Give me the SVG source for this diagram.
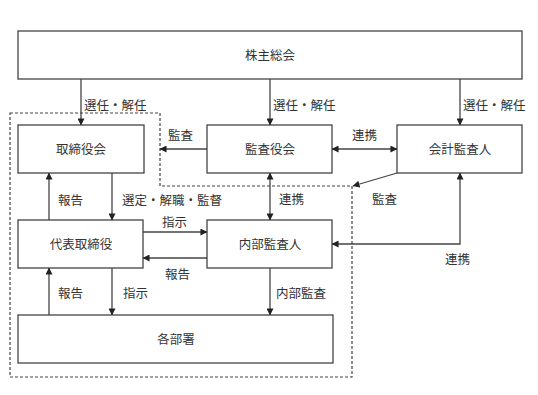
<svg xmlns="http://www.w3.org/2000/svg" width="538" height="395" viewBox="0 0 538 395">
<style>
.box{fill:#fff;stroke:#444;stroke-width:1.3}
.t{font-family:"Noto Sans CJK JP","Noto Sans",sans-serif;font-size:12.5px;fill:#333}
.c{text-anchor:middle}
.ln{stroke:#444;stroke-width:1.3;fill:none}
.dash{stroke:#444;stroke-width:1.2;fill:none;stroke-dasharray:3,2}
</style>
<defs>
<marker id="ah" viewBox="0 0 8 8" refX="7.5" refY="4" markerWidth="7" markerHeight="7" markerUnits="userSpaceOnUse" orient="auto-start-reverse">
<path d="M0,0 L8,4 L0,8 Z" fill="#222"/>
</marker>
</defs>
<rect width="538" height="395" fill="#fff"/>
<g id="region">
<path class="dash" d="M10,113 H160 V186 H352 V377 H10 Z"/>
</g>
<g id="n_kabunushi"><rect class="box" x="18" y="31" width="504" height="48"/><text class="t c" x="270" y="59.5">株主総会</text></g>
<g id="n_torishimariyakukai"><rect class="box" x="18" y="125" width="126" height="48"/><text class="t c" x="81" y="153.5">取締役会</text></g>
<g id="n_kansayakukai"><rect class="box" x="207" y="125" width="125" height="48"/><text class="t c" x="270" y="153.5">監査役会</text></g>
<g id="n_kaikei"><rect class="box" x="397" y="125" width="125" height="48"/><text class="t c" x="460" y="153.5">会計監査人</text></g>
<g id="n_daihyo"><rect class="box" x="18" y="220" width="125" height="48"/><text class="t c" x="81" y="248.5">代表取締役</text></g>
<g id="n_naibu"><rect class="box" x="207" y="220" width="125" height="48"/><text class="t c" x="270" y="248.5">内部監査人</text></g>
<g id="n_kakubusho"><rect class="box" x="18" y="315" width="315" height="48"/><text class="t c" x="176" y="343.5">各部署</text></g>
<g id="connectors">
<line class="ln" x1="81" y1="79" x2="81" y2="125" marker-end="url(#ah)"/>
<line class="ln" x1="270" y1="79" x2="270" y2="125" marker-end="url(#ah)"/>
<line class="ln" x1="460" y1="79" x2="460" y2="125" marker-end="url(#ah)"/>
<line class="ln" x1="207" y1="149" x2="160" y2="149" marker-end="url(#ah)"/>
<line class="ln" x1="332" y1="149" x2="397" y2="149" marker-start="url(#ah)" marker-end="url(#ah)"/>
<line class="ln" x1="397" y1="173" x2="353" y2="186" marker-end="url(#ah)"/>
<line class="ln" x1="49" y1="220" x2="49" y2="173" marker-end="url(#ah)"/>
<line class="ln" x1="112" y1="173" x2="112" y2="220" marker-end="url(#ah)"/>
<line class="ln" x1="270" y1="173" x2="270" y2="220" marker-start="url(#ah)" marker-end="url(#ah)"/>
<line class="ln" x1="143" y1="232" x2="207" y2="232" marker-end="url(#ah)"/>
<line class="ln" x1="207" y1="258" x2="143" y2="258" marker-end="url(#ah)"/>
<polyline class="ln" points="460,173 460,244 332,244" marker-start="url(#ah)" marker-end="url(#ah)"/>
<line class="ln" x1="112" y1="268" x2="112" y2="315" marker-end="url(#ah)"/>
<line class="ln" x1="49" y1="315" x2="49" y2="268" marker-end="url(#ah)"/>
<line class="ln" x1="270" y1="268" x2="270" y2="315" marker-end="url(#ah)"/>
<text class="t" x="84" y="109.5">選任・解任</text>
<text class="t" x="273" y="109.5">選任・解任</text>
<text class="t" x="463" y="109.5">選任・解任</text>
<text class="t" x="168" y="139.5">監査</text>
<text class="t" x="352" y="139.5">連携</text>
<text class="t" x="372" y="203.5">監査</text>
<text class="t" x="279" y="203.5">連携</text>
<text class="t" x="58" y="204.5">報告</text>
<text class="t" x="122" y="204.5">選定・解職・監督</text>
<text class="t" x="162" y="227">指示</text>
<text class="t" x="165" y="278.5">報告</text>
<text class="t" x="445" y="263.5">連携</text>
<text class="t" x="58" y="298">報告</text>
<text class="t" x="123" y="297.5">指示</text>
<text class="t" x="276" y="297.5">内部監査</text>
</g>
</svg>
